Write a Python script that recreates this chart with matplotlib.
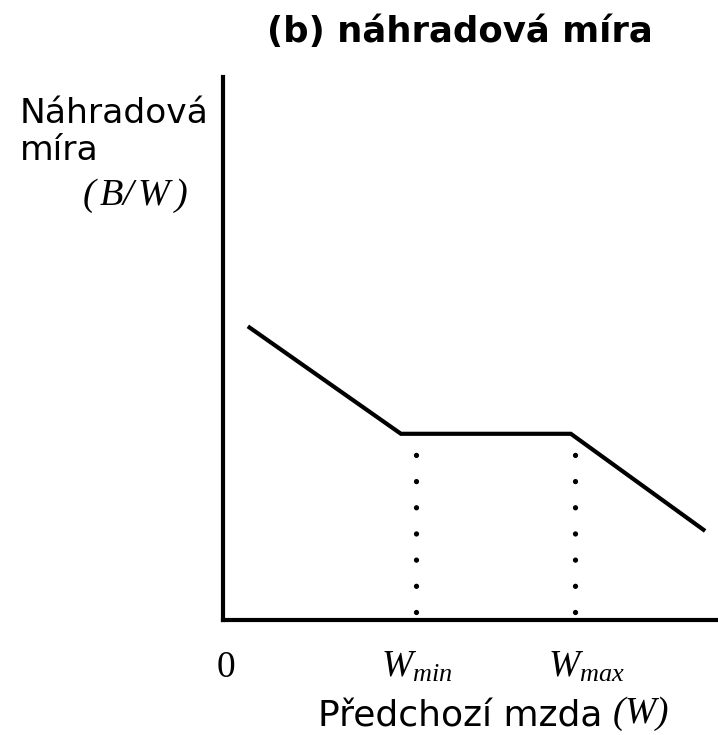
import matplotlib
matplotlib.use('Agg')
import matplotlib.pyplot as plt

plt.rcParams['font.family'] = ['DejaVu Sans']
plt.rcParams['mathtext.fontset'] = 'custom'
# italic serif for the math bits (parentheses slanted too), upright serif via \mathsf
plt.rcParams['mathtext.it'] = 'Liberation Serif:italic'
plt.rcParams['mathtext.rm'] = 'Liberation Serif:italic'
plt.rcParams['mathtext.sf'] = 'Liberation Serif'

# replacement-rate schedule (axes in 0..1 units)
wage = [0.051, 0.360, 0.703, 0.974]
rate = [0.541, 0.343, 0.343, 0.164]

# W_min / W_max markers and the height where the dotted guides start
w_marks = [0.391, 0.711]
guide_top = 0.343
tick_pos = [0.007, 0.391, 0.735]
tick_labels = [r'$\mathsf{0}$', r'$W_{min}$', r'$W_{max}$']

fig = plt.figure(figsize=(7.18, 7.35), dpi=100)
ax = fig.add_axes([0.310, 0.1565, 0.690, 0.7385])

ax.plot(wage, rate, color='black', lw=3, solid_joinstyle='miter', solid_capstyle='butt')
for w in w_marks:
    ax.plot([w, w], [guide_top, 0], color='black', lw=3.8,
            linestyle=(1.0, (0.01, 4.95)), dash_capstyle='round')

ax.set_xlim(0, 1)
ax.set_ylim(0, 1)
for s in ['top', 'right']:
    ax.spines[s].set_visible(False)
for s in ['left', 'bottom']:
    ax.spines[s].set_linewidth(3)
ax.set_yticks([])
ax.set_xticks(tick_pos)
ax.set_xticklabels(tick_labels, fontsize=27)
ax.tick_params(axis='x', length=0, pad=41)
for lbl in ax.get_xticklabels():
    lbl.set_va('baseline')

fig.text(0.6407, 0.9429, '(b) náhradová míra', fontsize=25.6, fontweight='bold',
         ha='center', va='baseline')
fig.text(0.0279, 0.8327, 'Náhradová', fontsize=24.8, ha='left', va='baseline')
fig.text(0.0279, 0.7823, 'míra', fontsize=24.8, ha='left', va='baseline')
fig.text(0.1142, 0.7211, r'$(\,B/\,W\,)$', fontsize=27.5, ha='left', va='baseline')
fig.text(0.443, 0.0115, 'Předchozí mzda', fontsize=26, ha='left', va='baseline')
fig.text(0.852, 0.0165, r'$(W)$', fontsize=27, ha='left', va='baseline')

fig.savefig('out.png', dpi=100)
